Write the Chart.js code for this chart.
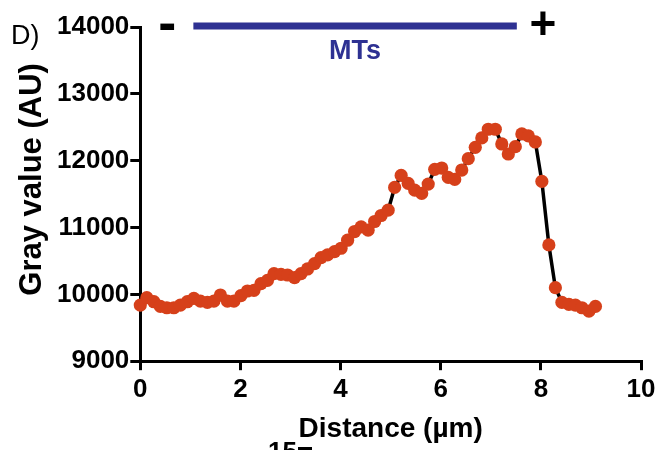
<!DOCTYPE html>
<html>
<head>
<meta charset="utf-8">
<script src="https://cdn.jsdelivr.net/npm/chart.js@4"></script>
<style>
  html, body { margin: 0; padding: 0; background: #fff; }
  #wrap { width: 661px; height: 450px; }
</style>
</head>
<body>
<div id="wrap"><canvas id="perfil"></canvas></div>
<script>
const distancia = [0.00,0.13,0.27,0.40,0.53,0.67,0.80,0.94,1.07,1.20,1.34,1.47,1.60,1.74,1.87,2.01,2.14,2.27,2.41,2.54,2.67,2.81,2.94,3.08,3.21,3.34,3.48,3.61,3.74,3.88,4.01,4.14,4.28,4.41,4.55,4.68,4.81,4.95,5.08,5.21,5.35,5.48,5.62,5.75,5.88,6.02,6.15,6.28,6.42,6.55,6.69,6.82,6.95,7.09,7.22,7.35,7.49,7.62,7.75,7.89,8.02,8.16,8.29,8.42,8.56,8.69,8.82,8.96,9.09];
const cinza = [9840,9950,9890,9820,9800,9800,9840,9890,9940,9900,9880,9900,9990,9900,9900,9980,10050,10060,10160,10210,10310,10300,10290,10250,10310,10380,10460,10550,10590,10640,10690,10810,10940,11010,10960,11090,11180,11260,11600,11780,11660,11560,11510,11650,11870,11890,11750,11720,11860,12030,12200,12340,12470,12470,12250,12100,12210,12400,12370,12280,11690,10740,10100,9880,9850,9840,9800,9750,9820];
const ticksX = [0, 2, 4, 6, 8, 10];
const ticksY = [9000, 10000, 11000, 12000, 13000, 14000];

// Barra dos microtúbulos (em unidades de distância)
const barraMT = [1.06, 7.52];

const AZUL = '#2e3192';
const LARANJA = '#d6401a';
const FONTE = '"Liberation Sans", Arial, sans-serif';

// Plugin para as anotações acima do gráfico
const anotacoes = {
  id: 'anotacoes',
  afterDraw(chart) {
    const { ctx, scales: { x, y } } = chart;
    const yTopo = y.getPixelForValue(14000);
    ctx.save();
    // barra azul
    ctx.strokeStyle = AZUL;
    ctx.lineWidth = 7;
    ctx.beginPath();
    ctx.moveTo(x.getPixelForValue(barraMT[0]), yTopo - 1);
    ctx.lineTo(x.getPixelForValue(barraMT[1]), yTopo - 1);
    ctx.stroke();

    ctx.textAlign = 'center';
    ctx.textBaseline = 'middle';
    ctx.fillStyle = AZUL;
    ctx.font = 'bold 27px ' + FONTE;
    ctx.fillText('MTs', x.getPixelForValue((barraMT[0] + barraMT[1]) / 2), yTopo + 25);

    ctx.fillStyle = '#000';
    ctx.font = 'bold 54px ' + FONTE;
    ctx.fillText('-', x.getPixelForValue(0.54), yTopo - 1);
    ctx.font = 'bold 46px ' + FONTE;
    ctx.fillText('+', x.getPixelForValue(8.04), yTopo - 1);

    ctx.textAlign = 'left';
    ctx.font = '27px ' + FONTE;
    ctx.fillText('D)', 11, 37);

    // título do eixo Y (um pouco acima do centro, como no original)
    ctx.save();
    ctx.translate(32, y.getPixelForValue(11720));
    ctx.rotate(-Math.PI / 2);
    ctx.textAlign = 'center';
    ctx.font = 'bold 31px ' + FONTE;
    ctx.fillText('Gray value (AU)', 0, 0);
    ctx.restore();

    // rótulo cortado do painel seguinte
    ctx.textBaseline = 'top';
    ctx.font = 'bold 26px ' + FONTE;
    ctx.fillText('15', 268, 440);
    ctx.fillRect(298, 447, 14, 3);
    ctx.restore();
  }
};

function desenharPerfil() {
  const pontos = distancia.map((d, i) => ({ x: d, y: cinza[i] }));
  const ctx = document.getElementById('perfil').getContext('2d');
  new Chart(ctx, {
    type: 'scatter',
    data: {
      datasets: [{
        data: pontos,
        showLine: true,
        clip: false,
        borderColor: '#000',
        borderWidth: 3.5,
        tension: 0,
        pointRadius: 6.6,
        pointBackgroundColor: LARANJA,
        pointBorderColor: LARANJA,
        pointBorderWidth: 0
      }]
    },
    options: {
      responsive: true,
      maintainAspectRatio: false,
      animation: false,
      plugins: {
        legend: { display: false },
        tooltip: { enabled: false }
      },
      layout: {
        padding: { top: 27, right: 20, bottom: 4, left: 56 }
      },
      scales: {
        x: {
          type: 'linear',
          min: 0,
          max: 10,
          afterBuildTicks: axis => { axis.ticks = ticksX.map(v => ({ value: v })); },
          ticks: {
            color: '#000',
            padding: 4,
            callback: v => String(v),
            font: { family: FONTE, size: 26, weight: 'bold' }
          },
          grid: { drawOnChartArea: false, drawTicks: true, tickLength: 9, color: '#000', lineWidth: 3 },
          border: { color: '#000', width: 3 },
          title: {
            display: true,
            text: 'Distance (µm)',
            color: '#000',
            padding: { top: 3, bottom: 0 },
            font: { family: FONTE, size: 28, weight: 'bold' }
          }
        },
        y: {
          type: 'linear',
          min: 9000,
          max: 14000,
          afterBuildTicks: axis => { axis.ticks = ticksY.map(v => ({ value: v })); },
          ticks: {
            color: '#000',
            padding: 1,
            callback: v => String(v),
            font: { family: FONTE, size: 26, weight: 'bold' }
          },
          grid: { drawOnChartArea: false, drawTicks: true, tickLength: 10, color: '#000', lineWidth: 3 },
          border: { color: '#000', width: 3 }
        }
      }
    },
    plugins: [anotacoes]
  });
}

document.addEventListener('DOMContentLoaded', desenharPerfil);
</script>
</body>
</html>
